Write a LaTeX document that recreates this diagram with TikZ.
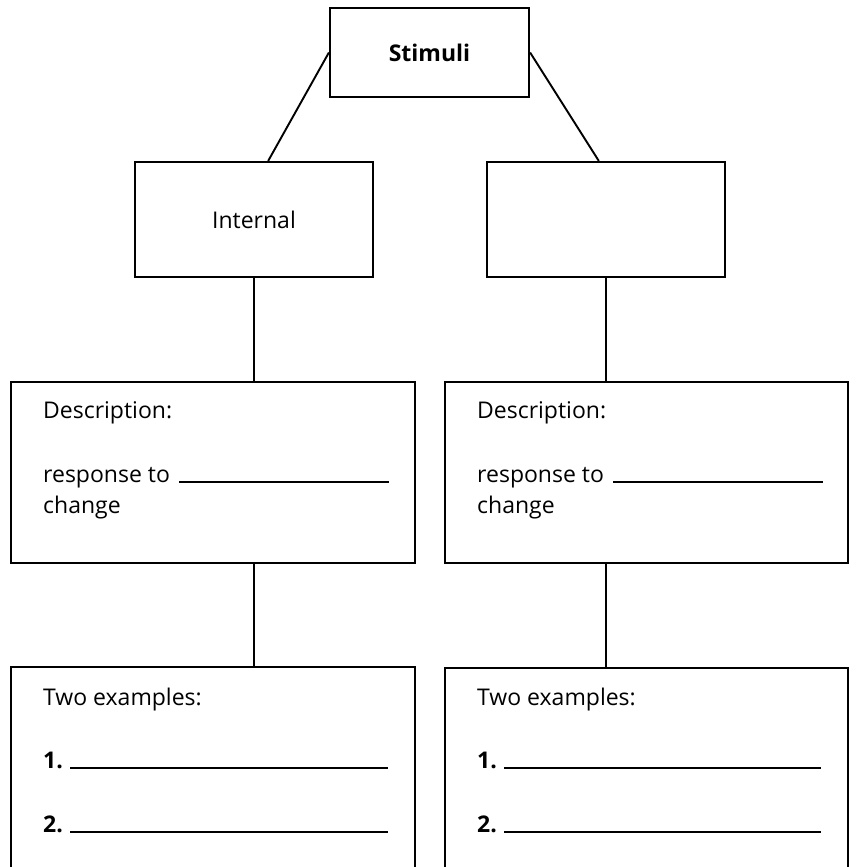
\documentclass[tikz,border=0pt]{standalone}
\usepackage{fontspec}
\setmainfont{Open Sans}
\usetikzlibrary{calc}
\begin{document}
\begin{tikzpicture}[x=1pt,y=-1pt,
  box/.style={draw, line width=2.2pt, inner sep=0pt, font=\fontsize{23}{31}\selectfont},
  link/.style={line width=1.9pt},
  blank/.style={line width=1.7pt},
  txt/.style={anchor=base west, inner sep=0pt, font=\fontsize{23}{31}\selectfont}]
\useasboundingbox (0,0) rectangle (856,867);
\clip (0,0) rectangle (856,867);
\fill[white] (0,0) rectangle (856,867);
% boxes
\node[box, minimum width=199pt, minimum height=89pt] (stim) at (429.5,52.5) {\bfseries Stimuli};
\node[box, minimum width=238pt, minimum height=115pt] (int) at (254,219.5) {Internal};
\node[box, minimum width=238pt, minimum height=115pt] (ext) at (606,219.5) {};
\node[box, minimum width=404pt, minimum height=181pt] (dl) at (213,472.5) {};
\node[box, minimum width=403pt, minimum height=181pt] (dr) at (646.5,472.5) {};
\node[box, minimum width=404pt, minimum height=240pt] (el) at (213,787) {};
\node[box, minimum width=403pt, minimum height=240pt] (er) at (646.5,788) {};
% left description
\node[txt] (dlt) at (43,418) {Description:};
\node[txt] (dlr) at (43,482) {response to};
\node[txt] (dlc) at (43,513) {change};
\draw[blank] (179,482) -- (389,482);
% right description
\node[txt] (drt) at (477,418) {Description:};
\node[txt] (drr) at (477,482) {response to};
\node[txt] (drc) at (477,513) {change};
\draw[blank] (613,482) -- (823,482);
% left examples
\node[txt] (elt) at (43,705) {Two examples:};
\node[txt] (el1) at (43,768) {\bfseries 1.};
\draw[blank] (70,768) -- (388,768);
\node[txt] (el2) at (43,832) {\bfseries 2.};
\draw[blank] (70,832) -- (388,832);
% right examples
\node[txt] (ert) at (477,705) {Two examples:};
\node[txt] (er1) at (477,768) {\bfseries 1.};
\draw[blank] (504,768) -- (821,768);
\node[txt] (er2) at (477,832) {\bfseries 2.};
\draw[blank] (504,832) -- (821,832);
% connectors
\draw[link] (stim.west) -- ($(int.north west)!0.559!(int.north east)$);
\draw[link] (stim.east) -- ($(ext.north west)!0.47!(ext.north east)$);
\draw[link] (int.south) -- (int.south |- dl.north);
\draw[link] (int.south |- dl.south) -- (int.south |- el.north);
\draw[link] (ext.south) -- (ext.south |- dr.north);
\draw[link] (ext.south |- dr.south) -- (ext.south |- er.north);
\end{tikzpicture}
\end{document}
